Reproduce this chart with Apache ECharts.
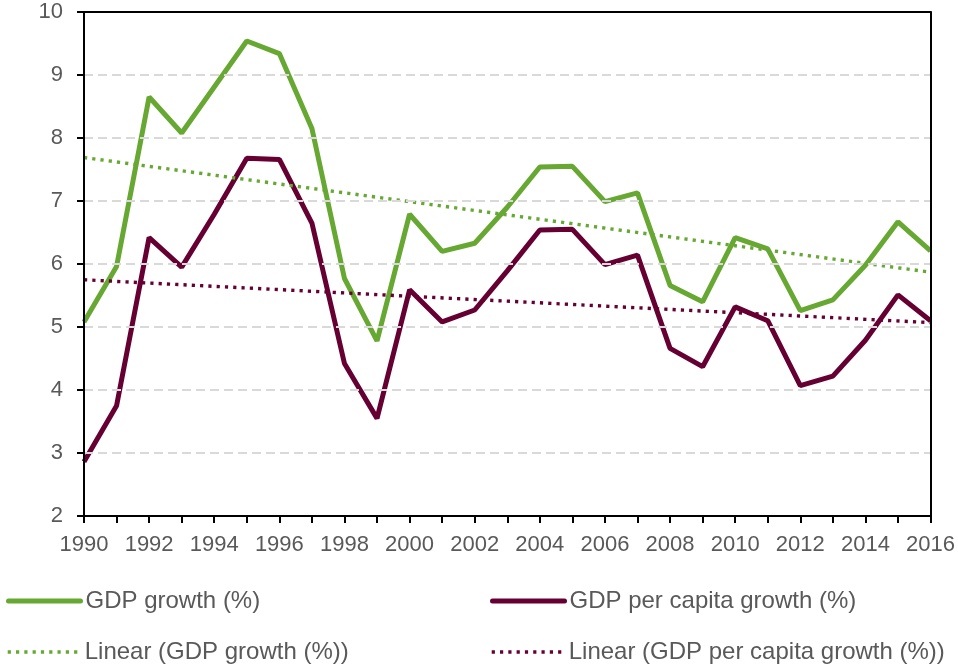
<!DOCTYPE html>
<html>
<head>
<meta charset="utf-8">
<script src="https://cdn.jsdelivr.net/npm/echarts@6/dist/echarts.min.js"></script>
<style>
html,body{margin:0;padding:0;background:#fff;}
#chart{width:958px;height:666px;}
</style>
</head>
<body>
<div id="chart"></div>
<script>
var years = ['1990','1991','1992','1993','1994','1995','1996','1997','1998','1999','2000','2001','2002','2003','2004','2005','2006','2007','2008','2009','2010','2011','2012','2013','2014','2015','2016'];
var gdpGrowth = [5.08,5.96,8.65,8.08,8.81,9.54,9.34,8.15,5.77,4.78,6.79,6.20,6.33,6.90,7.54,7.55,6.99,7.13,5.66,5.40,6.42,6.24,5.26,5.43,5.98,6.67,6.21];
var gdpPerCapita = [2.86,3.75,6.42,5.95,6.79,7.68,7.66,6.65,4.42,3.55,5.59,5.08,5.27,5.89,6.54,6.55,5.99,6.14,4.66,4.37,5.32,5.10,4.07,4.22,4.79,5.51,5.10];
var trendGdpEnds = [7.69, 5.87];
var trendPerCapitaEnds = [5.75, 5.07];
var yTicks = [2,3,4,5,6,7,8,9,10];

var green = '#66A832';
var maroon = '#660033';
var textColor = '#595959';
var font = 'Arial, "Liberation Sans", sans-serif';

var chart = echarts.init(document.getElementById('chart'), null, {renderer:'canvas'});
var dotType = [3.2, 5.1];
var dotStyle = function(c){ return {color:c, width:3.4, type:dotType}; };
var legendBase = function(name, left, top, lineStyle){
  return {data:[name], left:left, top:top, padding:0, orient:'horizontal', itemWidth:72, itemHeight:14, itemGap:0,
    itemStyle:{opacity:0}, lineStyle:lineStyle,
    textStyle:{color:textColor, fontSize:24, fontFamily:font, padding:[0,0,0,0]}, selectedMode:false};
};
chart.setOption({
  animation:false,
  backgroundColor:'#ffffff',
  grid:{left:84, right:26, top:12, bottom:150, show:false, containLabel:false},
  legend:[
    legendBase('GDP growth (%)', 6, 589, {color:green, width:5, cap:'round'}),
    legendBase('GDP per capita growth (%)', 490, 589, {color:maroon, width:5, cap:'round'}),
    legendBase('Linear (GDP growth (%))', 6, 640, {color:green, width:3.4, type:dotType}),
    legendBase('Linear (GDP per capita growth (%))', 490, 640, {color:maroon, width:3.4, type:dotType})
  ],
  xAxis:[
    {type:'category', data:years, boundaryGap:false, position:'bottom',
    axisLine:{lineStyle:{color:'#000', width:2}},
    axisTick:{show:true, interval:0, length:7, lineStyle:{color:'#000', width:2}},
    axisLabel:{interval:1, color:textColor, fontSize:22, fontFamily:font, margin:18},
    splitLine:{show:false}, z:5},
    {type:'category', data:years, boundaryGap:false, position:'top',
    axisLine:{show:true, onZero:false, lineStyle:{color:'#000', width:2}},
    axisTick:{show:false}, axisLabel:{show:false}, splitLine:{show:false}, z:5}
  ],
  yAxis:[
    {type:'value', min:yTicks[0], max:yTicks[yTicks.length-1], interval:1, position:'left',
    axisLine:{show:true, lineStyle:{color:'#000', width:2}},
    axisTick:{show:true, length:7, lineStyle:{color:'#000', width:2}},
    axisLabel:{color:textColor, fontSize:22, fontFamily:font, margin:21},
    splitLine:{show:true, lineStyle:{color:'#D9D9D9', width:2, type:[9,5]}}, z:5},
    {type:'value', min:yTicks[0], max:yTicks[yTicks.length-1], interval:1, position:'right',
    axisLine:{show:true, onZero:false, lineStyle:{color:'#000', width:2}},
    axisTick:{show:false}, axisLabel:{show:false}, splitLine:{show:false}, z:5}
  ],
  series:[
    {name:'GDP growth (%)', type:'line', data:gdpGrowth, symbol:'none', lineStyle:{color:green, width:5}, itemStyle:{color:green}, z:3},
    {name:'GDP per capita growth (%)', type:'line', data:gdpPerCapita, symbol:'none', lineStyle:{color:maroon, width:5}, itemStyle:{color:maroon}, z:3},
    {name:'Linear (GDP growth (%))', type:'line', data:[[years[0], trendGdpEnds[0]],[years[years.length-1], trendGdpEnds[1]]], symbol:'none', lineStyle:dotStyle(green), itemStyle:{color:green}, z:4},
    {name:'Linear (GDP per capita growth (%))', type:'line', data:[[years[0], trendPerCapitaEnds[0]],[years[years.length-1], trendPerCapitaEnds[1]]], symbol:'none', lineStyle:dotStyle(maroon), itemStyle:{color:maroon}, z:4}
  ]
});
</script>
</body>
</html>
